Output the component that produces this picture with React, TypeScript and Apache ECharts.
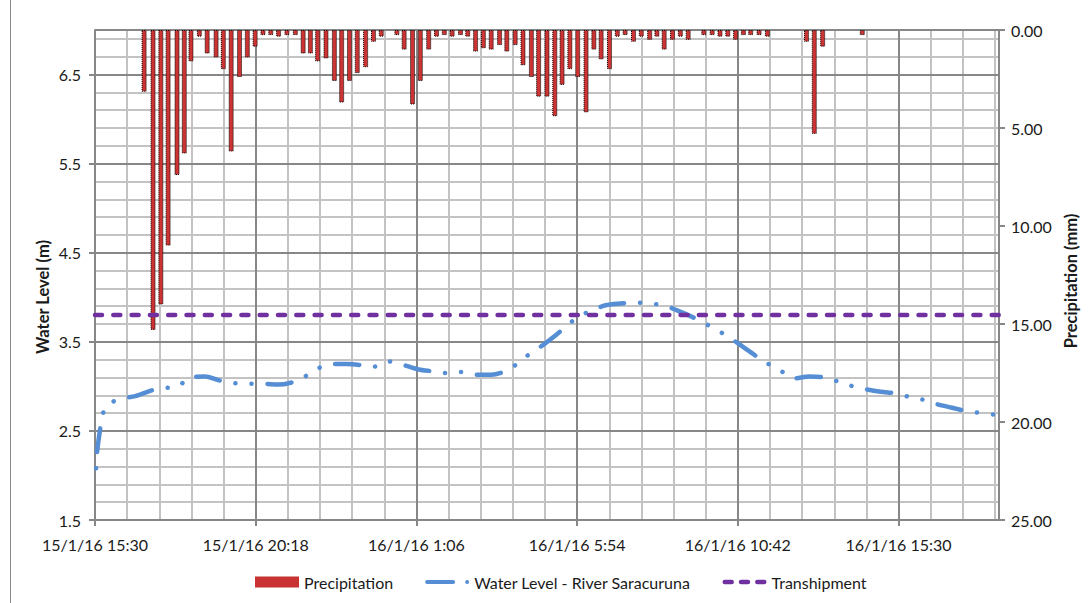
import React, { useEffect, useRef } from "react";
import * as echarts from "echarts";

// ---- Data ----
// time axis: minutes since 15/1/16 15:30
const X_MAX = 1620; // 16/1/16 18:30
const X_MAJOR = 288; // 4h48m
const X_MINOR = 57.6;

const Y_BASE = 1.5; // left axis starts at 1.5 m
const Y_TOP = 7.0;

const WL_TIMES = [2, 4, 12, 20, 46, 72, 99, 120, 147, 169, 197, 221, 242, 272, 300, 329, 350, 371, 396, 423, 451, 475, 499, 526, 553, 580, 604, 628, 656, 683, 710, 735, 756, 778, 802, 825, 845, 864, 889, 915, 941, 966, 992, 1019, 1044, 1070, 1092, 1115, 1139, 1162, 1187, 1207, 1228, 1252, 1280, 1306, 1329, 1353, 1380, 1408, 1436, 1460, 1484, 1509, 1536, 1563, 1589, 1616];
const WL_LEVELS = [2.08, 2.28, 2.62, 2.78, 2.86, 2.89, 2.95, 2.98, 2.99, 3.1, 3.11, 3.07, 3.04, 3.03, 3.03, 3.02, 3.04, 3.09, 3.19, 3.25, 3.25, 3.24, 3.22, 3.28, 3.24, 3.19, 3.17, 3.15, 3.16, 3.13, 3.13, 3.17, 3.25, 3.36, 3.46, 3.57, 3.68, 3.77, 3.85, 3.91, 3.93, 3.94, 3.93, 3.91, 3.85, 3.78, 3.71, 3.63, 3.54, 3.44, 3.33, 3.25, 3.18, 3.09, 3.11, 3.1, 3.06, 3.01, 2.97, 2.94, 2.92, 2.88, 2.85, 2.8, 2.76, 2.72, 2.7, 2.68];

const TRANSHIPMENT = 3.8;

const PRECIP_TIMES = [88, 104, 118, 131, 147, 160, 172, 187, 201, 217, 230, 244, 259, 273, 287, 301, 315, 329, 344, 359, 373, 386, 399, 414, 429, 442, 456, 470, 485, 499, 513, 541, 554, 569, 583, 598, 612, 626, 640, 655, 668, 682, 696, 710, 725, 738, 753, 767, 782, 795, 810, 824, 837, 851, 865, 880, 894, 907, 922, 936, 950, 965, 979, 994, 1007, 1020, 1035, 1049, 1063, 1091, 1106, 1120, 1134, 1148, 1162, 1175, 1190, 1205, 1275, 1289, 1304, 1375];
const PRECIP_MM = [3.15, 15.3, 14.0, 11.0, 7.4, 6.3, 1.6, 0.34, 1.2, 1.4, 2.0, 6.2, 2.4, 1.4, 0.85, 0.26, 0.26, 0.34, 0.26, 0.26, 1.2, 1.2, 1.6, 1.45, 2.6, 3.7, 2.6, 2.2, 1.9, 0.6, 0.34, 0.26, 1.0, 3.8, 2.6, 1.0, 0.34, 0.26, 0.34, 0.26, 0.34, 1.1, 0.93, 1.0, 0.77, 1.1, 0.77, 1.8, 2.4, 3.4, 3.4, 4.4, 2.8, 2.0, 2.4, 4.2, 1.0, 1.5, 2.0, 0.34, 0.26, 0.6, 0.34, 0.5, 0.34, 1.0, 0.5, 0.34, 0.5, 0.26, 0.26, 0.34, 0.34, 0.5, 0.26, 0.26, 0.26, 0.34, 0.6, 5.3, 0.85, 0.26];

const FONT = "Lato, 'Open Sans', sans-serif";
const TXT = "#1a1a1a";

const WL_ICON = "path://M2,3.5 L28,3.5 A2,2 0 0 1 28,7.5 L2,7.5 A2,2 0 0 1 2,3.5 Z M40,5.5 A2,2 0 1 0 44,5.5 A2,2 0 1 0 40,5.5 Z";
const TR_ICON = "path://M2,3.2 L9,3.2 A2.3,2.3 0 0 1 9,7.8 L2,7.8 A2.3,2.3 0 0 1 2,3.2 Z M18.5,3.2 L25.5,3.2 A2.3,2.3 0 0 1 25.5,7.8 L18.5,7.8 A2.3,2.3 0 0 1 18.5,3.2 Z M35,3.2 L42,3.2 A2.3,2.3 0 0 1 42,7.8 L35,7.8 A2.3,2.3 0 0 1 35,3.2 Z";

function fmtTime(m: number): string {
  const total = 15 * 60 + 30 + Math.round(m);
  const day = 15 + Math.floor(total / 1440);
  const rem = total % 1440;
  const h = Math.floor(rem / 60);
  const mm = rem % 60;
  return `${day}/1/16 ${h}:${mm < 10 ? "0" + mm : mm}`;
}

export default function App() {
  const ref = useRef<HTMLDivElement>(null);
  useEffect(() => {
    if (!ref.current) return;
    const chart = echarts.init(ref.current, null, { renderer: "svg" });
    const wl = WL_TIMES.map((t, i) => [t, WL_LEVELS[i] - Y_BASE]);
    const pr = PRECIP_TIMES.map((t, i) => [t, PRECIP_MM[i]]);
    const major = "#878787";
    const minor = "#c3c3c3";
    chart.setOption({
      animation: false,
      textStyle: { fontFamily: FONT },
      grid: { left: 95, right: 90, top: 30, bottom: 83 },
      legend: {
        left: 250,
        top: 569,
        itemWidth: 44,
        itemHeight: 11,
        itemGap: 32,
        symbolKeepAspect: true,
        textStyle: { fontSize: 16, color: TXT, fontFamily: FONT },
        data: [
          { name: "Precipitation", icon: "rect", itemStyle: { color: "#c83232", borderWidth: 0 } },
          { name: "Water Level - River Saracuruna", icon: WL_ICON, itemStyle: { color: "#558ed5", borderWidth: 0 } },
          { name: "Transhipment", icon: TR_ICON, itemStyle: { color: "#7030a0", borderWidth: 0 } },
        ],
      },
      xAxis: [
        {
          type: "value",
          min: 0,
          max: X_MAX,
          interval: X_MAJOR,
          position: "bottom",
          z: 1,
          axisLine: { show: true, lineStyle: { color: major, width: 2 } },
          axisTick: { show: true, length: 6, lineStyle: { color: major, width: 2 } },
          axisLabel: { formatter: (v: number) => fmtTime(v), showMaxLabel: false, margin: 16, fontSize: 16, color: TXT, fontFamily: FONT },
          splitLine: { show: true, lineStyle: { color: major, width: 2 } },
        },
        {
          type: "value",
          min: 0,
          max: X_MAX,
          interval: X_MINOR,
          position: "top",
          z: 0,
          axisLine: { show: false },
          axisTick: { show: false },
          axisLabel: { show: false },
          splitLine: { show: true, lineStyle: { color: minor, width: 2 } },
        },
      ],
      yAxis: [
        {
          type: "value",
          min: 0,
          max: Y_TOP - Y_BASE,
          interval: 1,
          position: "left",
          z: 1,
          name: "Water Level (m)",
          nameLocation: "middle",
          nameGap: 44,
          nameMoveOverlap: false,
          nameTextStyle: { fontSize: 16.5, fontWeight: "bold", color: TXT, fontFamily: FONT, padding: [0, 44, 0, 0] },
          axisLine: { show: true, lineStyle: { color: major, width: 2 } },
          axisTick: { show: true, length: 6, lineStyle: { color: major, width: 2 } },
          axisLabel: { formatter: (v: number) => (v + Y_BASE).toFixed(1), showMaxLabel: false, margin: 14, fontSize: 16, color: TXT, fontFamily: FONT },
          splitLine: { show: true, lineStyle: { color: major, width: 2 } },
        },
        {
          type: "value",
          min: 0,
          max: Y_TOP - Y_BASE,
          interval: 0.2,
          position: "left",
          z: 0,
          axisLine: { show: false },
          axisTick: { show: false },
          axisLabel: { show: false },
          splitLine: { show: true, lineStyle: { color: minor, width: 2 } },
        },
        {
          type: "value",
          min: 0,
          max: 25,
          interval: 5,
          inverse: true,
          position: "right",
          z: 1,
          name: "Precipitation (mm)",
          nameLocation: "middle",
          nameGap: 62,
          nameRotate: 90,
          nameTextStyle: { fontSize: 16.5, fontWeight: "bold", color: TXT, fontFamily: FONT, padding: [0, 12, 0, 0] },
          axisLine: { show: true, lineStyle: { color: major, width: 2 } },
          axisTick: { show: true, length: 6, lineStyle: { color: major, width: 2 } },
          axisLabel: { formatter: (v: number) => v.toFixed(2), margin: 12, fontSize: 16, color: TXT, fontFamily: FONT },
          splitLine: { show: false },
        },
      ],
      series: [
        {
          name: "Precipitation",
          type: "bar",
          xAxisIndex: 0,
          yAxisIndex: 2,
          barWidth: 5,
          data: pr,
          itemStyle: { color: "#cc3333", borderColor: "#000", borderWidth: 1, borderType: "dotted" },
          z: 2,
        },
        {
          name: "Water Level - River Saracuruna",
          type: "line",
          xAxisIndex: 0,
          yAxisIndex: 0,
          data: wl,
          smooth: 0.3,
          symbol: "none",
          showSymbol: false,
          itemStyle: { color: "#558ed5" },
          lineStyle: { color: "#558ed5", width: 4.5, type: [24, 16, 0.1, 16, 0.1, 16], dashOffset: 56, cap: "round" },
          z: 3,
        },
        {
          name: "Transhipment",
          type: "line",
          xAxisIndex: 0,
          yAxisIndex: 0,
          data: [[0, TRANSHIPMENT - Y_BASE], [X_MAX, TRANSHIPMENT - Y_BASE]],
          symbol: "none",
          showSymbol: false,
          itemStyle: { color: "#7030a0" },
          lineStyle: { color: "#7030a0", width: 4.5, type: [7, 11.3], cap: "round" },
          z: 3,
        },
      ],
      graphic: [
        { type: "line", shape: { x1: 10.5, y1: 0, x2: 10.5, y2: 603 }, style: { stroke: "#8a8a8a", lineWidth: 1 } },
      ],
    });
    return () => chart.dispose();
  }, []);
  return (
    <div
      ref={ref}
      style={{ position: "fixed", left: 0, top: 0, width: 1089, height: 603, background: "#fff" }}
    />
  );
}
